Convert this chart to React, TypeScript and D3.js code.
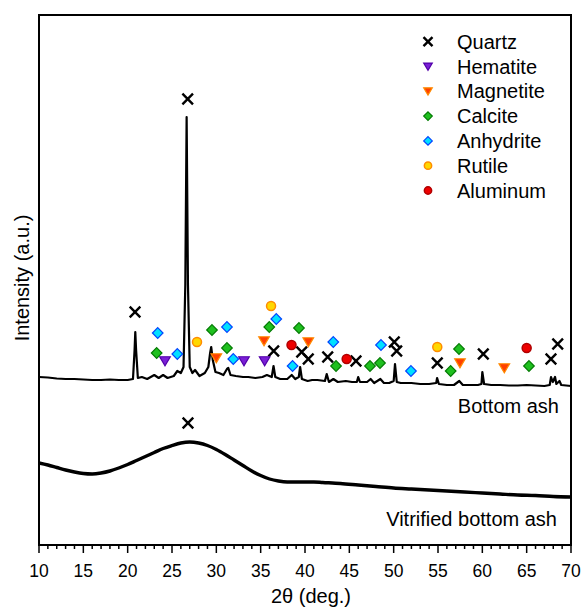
import React, { useEffect, useRef } from "react";
import * as d3 from "d3";

// 2θ (deg.) vs intensity (a.u.)
const bottomAsh: [number, number][] = [
  [10, 168], [11, 167.5], [12, 166.5], [13, 166], [14, 166], [15, 165.5], [16, 165], [17, 165],
  [18, 165.5], [19, 165], [20, 165], [20.6, 166], [20.78, 195], [20.86, 213], [20.95, 195],
  [21.15, 167], [21.6, 168], [22.2, 166], [23.0, 170], [23.5, 167], [24.0, 170], [24.5, 167],
  [25.2, 169], [25.6, 174], [26.0, 172], [26.3, 178], [26.5, 260], [26.65, 428], [26.8, 260],
  [27.0, 178], [27.3, 172], [27.6, 175], [28.1, 169], [28.7, 172], [29.1, 178], [29.3, 192],
  [29.42, 198], [29.6, 185], [29.9, 173], [30.3, 172], [30.8, 170], [31.2, 176], [31.35, 177],
  [31.6, 170], [32.2, 169], [33.0, 168], [33.6, 168], [34.4, 167], [35.2, 168], [35.7, 170],
  [36.25, 168], [36.45, 179], [36.65, 168], [37.2, 166], [38.0, 166], [38.5, 170], [38.9, 166],
  [39.3, 168], [39.45, 178], [39.65, 166], [40.3, 164], [40.8, 165], [41.4, 165], [42.25, 164],
  [42.45, 171], [42.7, 163], [43.2, 166], [43.7, 163], [44.6, 164], [45.3, 163], [45.85, 163],
  [46.0, 168], [46.2, 163], [47.0, 163], [47.4, 166], [47.8, 162], [48.5, 166], [48.9, 162],
  [49.5, 162], [50.0, 164], [50.15, 181], [50.35, 163], [50.8, 162], [52, 162], [53, 161],
  [54, 161], [54.8, 162], [54.9, 167], [55.1, 161], [56, 160], [56.8, 160], [57.4, 164],
  [57.8, 160], [58.5, 160], [59.5, 160], [59.9, 161], [60.0, 173], [60.2, 161], [61, 160],
  [62, 160], [63, 159.5], [64, 159.5], [65, 160], [66, 159.5], [67, 159], [67.6, 160],
  [67.75, 168], [67.95, 163], [68.2, 168], [68.35, 161], [68.7, 164], [68.9, 160], [70, 159],
];

const vitrified: [number, number][] = [
  [10, 82], [11, 80], [12, 77.5], [13, 75], [14, 73], [15, 71.5], [16, 71], [17, 72], [18, 74],
  [19, 77], [20, 80.5], [21, 84.5], [22, 88.5], [23, 92.5], [24, 96.5], [25, 99.5], [26, 102], [27, 103],
  [28, 102], [29, 99.5], [30, 95.5], [31, 90.5], [32, 85], [33, 79.5], [34, 74], [35, 69.5], [36, 66],
  [37, 64], [38, 63], [39, 63], [40, 63], [41, 63], [42, 62.5], [44, 61.5], [46, 60], [48, 58.5],
  [50, 57], [52, 56], [54, 55], [56, 54], [58, 53], [60, 52], [62, 51], [64, 50], [66, 49.5],
  [68, 48.5], [70, 48],
];

// phase markers [2θ, label height]
const quartz: [number, number][] = [
  [20.83, 233], [26.77, 446], [36.47, 194], [39.63, 193], [40.37, 186], [42.56, 188],
  [45.75, 184], [50.07, 203], [50.34, 194], [54.92, 182], [60.11, 191], [67.74, 186],
  [68.5, 201], [26.8, 122],
];
const hematite: [number, number][] = [[24.21, 184], [33.12, 184], [35.45, 184]];
const magnetite: [number, number][] = [
  [30.0, 187], [35.38, 204], [40.37, 203], [57.48, 182], [62.48, 177],
];
const calcite: [number, number][] = [
  [23.27, 192], [29.51, 215], [31.2, 197], [35.97, 218], [39.32, 217], [43.5, 179],
  [47.33, 179], [48.46, 182], [56.43, 174], [57.37, 196], [65.26, 179],
];
const anhydrite: [number, number][] = [
  [23.39, 212], [25.6, 191], [31.2, 218], [31.91, 186], [36.76, 226], [38.6, 179],
  [43.19, 203], [48.57, 200], [51.95, 174],
];
const rutile: [number, number][] = [[27.82, 203], [36.17, 239], [54.92, 198]];
const aluminum: [number, number][] = [[38.48, 200], [44.7, 186], [65.0, 197]];

const phaseNames = ["Quartz", "Hematite", "Magnetite", "Calcite", "Anhydrite", "Rutile", "Aluminum"];
const xTicks = [10, 15, 20, 25, 30, 35, 40, 45, 50, 55, 60, 65, 70];

const width = 581;
const height = 608;
const margin = { top: 15, right: 10, bottom: 63, left: 39 };
const font = "Arial, 'Liberation Sans', sans-serif";

type Kind = "x" | "tri" | "diamond" | "circle";
const styles: Record<string, { kind: Kind; fill: string; stroke: string }> = {
  Quartz: { kind: "x", fill: "none", stroke: "#000" },
  Hematite: { kind: "tri", fill: "#7a1fd6", stroke: "#5200aa" },
  Magnetite: { kind: "tri", fill: "#ff4000", stroke: "#ff8a00" },
  Calcite: { kind: "diamond", fill: "#1fc01f", stroke: "#007a00" },
  Anhydrite: { kind: "diamond", fill: "#00e0ff", stroke: "#0044ff" },
  Rutile: { kind: "circle", fill: "#ffd800", stroke: "#ff8c00" },
  Aluminum: { kind: "circle", fill: "#ee0000", stroke: "#b00000" },
};

const drawMarker = (
  g: d3.Selection<SVGGElement, unknown, null, undefined>,
  name: string,
  cx: number,
  cy: number,
  s: number,
) => {
  const st = styles[name];
  if (st.kind === "x") {
    g.append("path")
      .attr("d", `M${cx - s},${cy - s}L${cx + s},${cy + s}M${cx - s},${cy + s}L${cx + s},${cy - s}`)
      .attr("stroke", "#000")
      .attr("stroke-width", 2.4)
      .attr("fill", "none");
  } else if (st.kind === "tri") {
    g.append("path")
      .attr("d", `M${cx - s},${cy - s * 0.8}L${cx + s},${cy - s * 0.8}L${cx},${cy + s * 0.9}Z`)
      .attr("fill", st.fill)
      .attr("stroke", st.stroke)
      .attr("stroke-width", 1.2);
  } else if (st.kind === "diamond") {
    g.append("path")
      .attr("d", `M${cx},${cy - s}L${cx + s},${cy}L${cx},${cy + s}L${cx - s},${cy}Z`)
      .attr("fill", st.fill)
      .attr("stroke", st.stroke)
      .attr("stroke-width", 1.2);
  } else {
    g.append("circle")
      .attr("cx", cx)
      .attr("cy", cy)
      .attr("r", s * 0.85)
      .attr("fill", st.fill)
      .attr("stroke", st.stroke)
      .attr("stroke-width", 1.5);
  }
};

const XrdChart = () => {
  const ref = useRef<SVGSVGElement>(null);

  useEffect(() => {
    const svg = d3.select(ref.current);
    svg.selectAll("*").remove();

    const x = d3.scaleLinear().domain([10, 70]).range([margin.left, width - margin.right]);
    const y = d3.scaleLinear().domain([0, 530]).range([height - margin.bottom, margin.top]);

    const line = d3
      .line<[number, number]>()
      .x((d) => x(d[0]))
      .y((d) => y(d[1]));

    svg.append("path")
      .datum(bottomAsh)
      .attr("d", line)
      .attr("fill", "none")
      .attr("stroke", "#000")
      .attr("stroke-width", 2.2)
      .attr("stroke-linejoin", "round");

    svg.append("path")
      .datum(vitrified)
      .attr("d", line.curve(d3.curveMonotoneX))
      .attr("fill", "none")
      .attr("stroke", "#000")
      .attr("stroke-width", 3.4);

    // phase markers
    const marks = svg.append("g");
    const sets: [string, [number, number][]][] = [
      ["Quartz", quartz],
      ["Hematite", hematite],
      ["Magnetite", magnetite],
      ["Calcite", calcite],
      ["Anhydrite", anhydrite],
      ["Rutile", rutile],
      ["Aluminum", aluminum],
    ];
    sets.forEach(([name, pts]) => {
      pts.forEach((p) => {
        drawMarker(marks, name, x(p[0]), y(p[1]), 5.3);
      });
    });

    // frame
    svg.append("rect")
      .attr("x", margin.left)
      .attr("y", margin.top)
      .attr("width", width - margin.left - margin.right)
      .attr("height", height - margin.top - margin.bottom)
      .attr("fill", "none")
      .attr("stroke", "#000")
      .attr("stroke-width", 2);

    const xAxis = svg
      .append("g")
      .attr("transform", `translate(0, ${height - margin.bottom})`);
    xAxis
      .selectAll("line.minor")
      .data(d3.range(10, 71, 1))
      .enter()
      .append("line")
      .attr("x1", (d) => x(d))
      .attr("x2", (d) => x(d))
      .attr("y1", 0)
      .attr("y2", (d) => (d % 5 === 0 ? 8 : 4))
      .attr("stroke", "#000")
      .attr("stroke-width", 1.5);
    xAxis
      .selectAll("text")
      .data(xTicks)
      .enter()
      .append("text")
      .attr("x", (d) => x(d))
      .attr("y", 32)
      .attr("text-anchor", "middle")
      .style("font-family", font)
      .style("font-size", "17.5px")
      .text((d) => d);

    svg.append("text")
      .attr("x", 311)
      .attr("y", 603)
      .attr("text-anchor", "middle")
      .style("font-family", font)
      .style("font-size", "20px")
      .text("2θ (deg.)");

    svg.append("text")
      .attr("transform", "translate(29, 278) rotate(-90)")
      .attr("text-anchor", "middle")
      .style("font-family", font)
      .style("font-size", "20px")
      .text("Intensity (a.u.)");

    svg.append("text")
      .attr("x", 559)
      .attr("y", 413)
      .attr("text-anchor", "end")
      .style("font-family", font)
      .style("font-size", "20px")
      .text("Bottom ash");

    svg.append("text")
      .attr("x", 557)
      .attr("y", 526)
      .attr("text-anchor", "end")
      .style("font-family", font)
      .style("font-size", "20px")
      .text("Vitrified bottom ash");

    // legend
    const legend = svg.append("g");
    phaseNames.forEach((name, i) => {
      const cy = 41.7 + i * 24.8;
      drawMarker(legend, name, 428, cy, styles[name].kind === "x" ? 4.5 : 4.3);
      legend
        .append("text")
        .attr("x", 457)
        .attr("y", cy + 7)
        .style("font-family", font)
        .style("font-size", "20px")
        .text(name);
    });
  }, []);

  return <svg ref={ref} width={width} height={height} style={{ display: "block" }} />;
};

export default function App() {
  return (
    <div style={{ position: "absolute", left: 0, top: 0 }}>
      <XrdChart />
    </div>
  );
}
